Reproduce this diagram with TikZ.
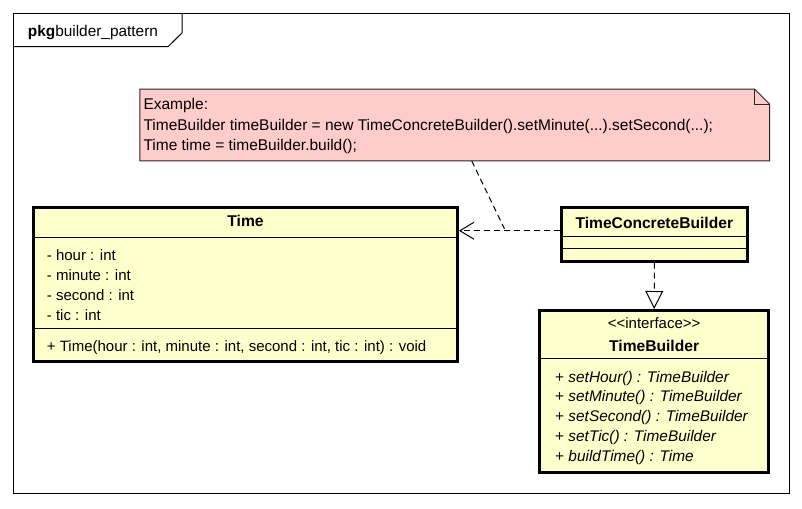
\documentclass[tikz,border=0pt]{standalone}
\usepackage{fontspec}
\setmainfont{Liberation Sans}
\usetikzlibrary{arrows.meta,calc}
\definecolor{classfill}{HTML}{FFFFCC}
\definecolor{notefill}{HTML}{FFCCCC}
\begin{document}
\begin{tikzpicture}[x=1pt,y=-1pt,
  every node/.style={font=\fontsize{15}{18}\selectfont},
  classbox/.style={draw=black, line width=3pt, fill=classfill, rectangle, inner sep=0pt},
  txt/.style={anchor=base west, inner sep=0pt},
  ctxt/.style={anchor=base, inner sep=0pt},
  notetxt/.style={txt, font=\fontsize{15.5}{18}\selectfont},
  boldtxt/.style={ctxt, font=\fontsize{15.6}{18}\selectfont\bfseries},
  ittxt/.style={txt, font=\fontsize{15.4}{18}\selectfont},
  divline/.style={line width=1pt},
  dep/.style={dash pattern=on 6pt off 4pt, line width=1pt},
]
\useasboundingbox[fill=white] (0,0) rectangle (802,508);

% package frame
\node[draw, line width=1pt, rectangle, inner sep=0pt, minimum width=775.7pt, minimum height=480.2pt] (frame) at (401.2,253.4) {};
\draw[line width=1pt] (frame.north west |- 0,46.7) -- (168,46.7) -- (182,33) -- (182,0 |- frame.north);
\node[txt, font=\fontsize{15.4}{18}\selectfont] (pkg) at (27.7,36.5) {\textbf{pkg}builder\_pattern};

% note
\node[rectangle, inner sep=0pt, minimum width=629.3pt, minimum height=71.4pt] (note) at (454.7,125) {};
\filldraw[fill=notefill, draw=black!85, line width=1pt] (note.north west) -- ([xshift=-15pt]note.north east) -- ([yshift=-15pt]note.north east) -- (note.south east) -- (note.south west) -- cycle;
\draw[draw=black!85, line width=1pt] ([xshift=-15pt]note.north east) -- ([xshift=-15pt,yshift=-15pt]note.north east) -- ([yshift=-15pt]note.north east);
\node[notetxt] (n1) at (143.3,110) {Example:};
\node[notetxt] (n2) at (143.3,130) {TimeBuilder timeBuilder = new TimeConcreteBuilder().setMinute(...).setSecond(...);};
\node[notetxt] (n3) at (143.3,150) {Time time = timeBuilder.build();};

% class Time
\node[classbox, minimum width=424pt, minimum height=154.3pt] (time) at (245.5,284.35) {};
\draw[divline] (time.west |- 0,237) -- (time.east |- 0,237);
\draw[divline] (time.west |- 0,328) -- (time.east |- 0,328);
\node[boldtxt] (timename) at (245.5,226.7) {Time};
\node[txt] (a1) at (46.7,260) {- hour : int};
\node[txt] (a2) at (46.7,280) {- minute : int};
\node[txt] (a3) at (46.7,300) {- second : int};
\node[txt] (a4) at (46.7,320) {- tic : int};
\node[txt] (m1) at (46.7,351) {+ Time(hour : int, minute : int, second : int, tic : int) : void};

% class TimeConcreteBuilder
\node[classbox, minimum width=185.7pt, minimum height=53.7pt] (tcb) at (654.35,234.35) {};
\draw[divline] (tcb.west |- 0,236.7) -- (tcb.east |- 0,236.7);
\draw[divline] (tcb.west |- 0,248.3) -- (tcb.east |- 0,248.3);
\node[boldtxt] (tcbname) at (654.35,228.3) {TimeConcreteBuilder};

% interface TimeBuilder
\node[classbox, minimum width=228.7pt, minimum height=162.3pt] (tb) at (654.15,391.65) {};
\draw[divline] (tb.west |- 0,358.3) -- (tb.east |- 0,358.3);
\node[ctxt] (tbst) at (654.15,328.3) {<\kern0pt<interface>\kern0pt>};
\node[boldtxt] (tbname) at (654.15,351.7) {TimeBuilder};
\node[ittxt] (b1) at (555,382) {+ \textit{setHour() : TimeBuilder}};
\node[ittxt] (b2) at (555,401.75) {+ \textit{setMinute() : TimeBuilder}};
\node[ittxt] (b3) at (555,421.5) {+ \textit{setSecond() : TimeBuilder}};
\node[ittxt] (b4) at (555,441.25) {+ \textit{setTic() : TimeBuilder}};
\node[ittxt] (b5) at (555,461) {+ \textit{buildTime() : Time}};

% connectors
\coordinate (depS) at ([yshift=3.6pt]tcb.west);
\draw[dep, -{Straight Barb[length=14pt, width=17pt, line width=1pt]}] (depS) -- (time.east |- depS);
\draw[dep, -{Triangle[fill=white, length=18pt, width=18pt, line width=1pt]}] (tcb.south) -- (tb.north);
\coordinate (nt) at ($(depS)!0.55!(time.east |- depS)$);
\draw[dep] ([xshift=17pt]note.south) -- ([yshift=2pt]nt);
\end{tikzpicture}
\end{document}
